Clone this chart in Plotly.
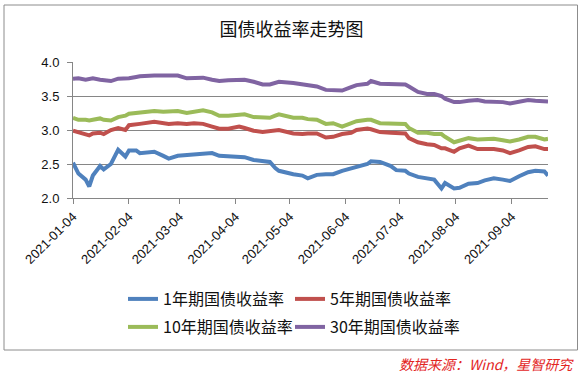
import plotly.graph_objects as go

# ---- data ----
dates = [
    "2021-01-04", "2021-01-07", "2021-01-11", "2021-01-13", "2021-01-15", "2021-01-19",
    "2021-01-21", "2021-01-25", "2021-01-29", "2021-02-02", "2021-02-04", "2021-02-08",
    "2021-02-10", "2021-02-18", "2021-02-23", "2021-02-26", "2021-03-03", "2021-03-08",
    "2021-03-12", "2021-03-17", "2021-03-22", "2021-03-26", "2021-03-31", "2021-04-06",
    "2021-04-09", "2021-04-14", "2021-04-19", "2021-04-23", "2021-04-26", "2021-04-28",
    "2021-05-06", "2021-05-11", "2021-05-14", "2021-05-19", "2021-05-24", "2021-05-28",
    "2021-06-02", "2021-06-07", "2021-06-10", "2021-06-16", "2021-06-18", "2021-06-23",
    "2021-06-29", "2021-07-02", "2021-07-07", "2021-07-09", "2021-07-14", "2021-07-19",
    "2021-07-23", "2021-07-27", "2021-07-29", "2021-08-03", "2021-08-06", "2021-08-11",
    "2021-08-16", "2021-08-20", "2021-08-25", "2021-08-30", "2021-09-03", "2021-09-08",
    "2021-09-13", "2021-09-17", "2021-09-22", "2021-09-24",
]

yield_1y = [
    2.52, 2.36, 2.27, 2.17, 2.33, 2.47, 2.42, 2.50, 2.71, 2.61, 2.70, 2.70,
    2.66, 2.68, 2.62, 2.58, 2.62, 2.63, 2.64, 2.66, 2.66, 2.62, 2.61, 2.60,
    2.60, 2.56, 2.55, 2.53, 2.44, 2.40, 2.35, 2.33, 2.29, 2.34, 2.35, 2.35,
    2.40, 2.44, 2.45, 2.50, 2.54, 2.53, 2.47, 2.41, 2.40, 2.36, 2.31, 2.29,
    2.27, 2.14, 2.22, 2.14, 2.15, 2.21, 2.22, 2.26, 2.29, 2.27, 2.25, 2.32,
    2.38, 2.40, 2.39, 2.33,
]

yield_5y = [
    2.99, 2.97, 2.94, 2.92, 2.95, 2.96, 2.94, 3.00, 3.03, 3.00, 3.07, 3.08,
    3.09, 3.12, 3.10, 3.09, 3.10, 3.09, 3.10, 3.09, 3.05, 3.02, 3.02, 3.05,
    3.03, 2.99, 2.97, 2.98, 2.99, 3.00, 2.95, 2.94, 2.95, 2.95, 2.89, 2.90,
    2.94, 2.96, 3.00, 3.02, 3.01, 2.97, 2.96, 2.96, 2.95, 2.88, 2.82, 2.79,
    2.78, 2.73, 2.73, 2.68, 2.73, 2.77, 2.72, 2.72, 2.72, 2.70, 2.66, 2.70,
    2.75, 2.76, 2.72, 2.72,
]

yield_10y = [
    3.18, 3.15, 3.15, 3.14, 3.15, 3.17, 3.15, 3.14, 3.19, 3.21, 3.24, 3.25,
    3.26, 3.28, 3.27, 3.27, 3.28, 3.25, 3.27, 3.29, 3.26, 3.21, 3.21, 3.22,
    3.23, 3.19, 3.19, 3.18, 3.21, 3.23, 3.18, 3.18, 3.16, 3.15, 3.09, 3.10,
    3.05, 3.11, 3.13, 3.15, 3.15, 3.10, 3.10, 3.10, 3.09, 3.03, 2.96, 2.96,
    2.94, 2.94, 2.90, 2.82, 2.84, 2.88, 2.86, 2.86, 2.87, 2.85, 2.83, 2.86,
    2.90, 2.90, 2.86, 2.87,
]

yield_30y = [
    3.755, 3.76, 3.74, 3.75, 3.76, 3.74, 3.73, 3.72, 3.755, 3.755, 3.76, 3.78,
    3.79, 3.80, 3.80, 3.81, 3.80, 3.76, 3.77, 3.77, 3.74, 3.72, 3.73, 3.74,
    3.74, 3.71, 3.67, 3.67, 3.70, 3.71, 3.69, 3.67, 3.66, 3.64, 3.59, 3.59,
    3.58, 3.63, 3.66, 3.68, 3.72, 3.68, 3.68, 3.68, 3.67, 3.64, 3.56, 3.53,
    3.53, 3.50, 3.46, 3.41, 3.41, 3.43, 3.44, 3.42, 3.42, 3.41, 3.39, 3.42,
    3.44, 3.43, 3.42, 3.42,
]

series_names = ["1年期国债收益率", "5年期国债收益率", "10年期国债收益率", "30年期国债收益率"]
series_colors = ["#4F81BD", "#C0504D", "#9BBB59", "#8064A2"]

tick_dates = ["2021-01-04", "2021-02-04", "2021-03-04", "2021-04-04", "2021-05-04",
              "2021-06-04", "2021-07-04", "2021-08-04", "2021-09-04"]
tick_labels = list(tick_dates)

title_text = "国债收益率走势图"
source_text = "数据来源：Wind，星智研究"

# ---- layout geometry ----
W, H = 583, 373
L, R, T, B = 73, 35, 62, 175
pw = W - L - R
ph = H - T - B


def px_x(x):
    return (x - L) / pw


def px_y(y):
    return (H - B - y) / ph


axis_grey = "#868686"
cjk = "Noto Sans CJK SC"

# one legend per entry, placed on a 2 x 2 grid like the original
legend_ids = ["legend", "legend2", "legend3", "legend4"]
legend_pos = [(123, 299), (290, 299), (123, 327), (290, 327)]

# ---- figure ----
fig = go.Figure()
for name, vals, col, lg in zip(series_names, [yield_1y, yield_5y, yield_10y, yield_30y],
                               series_colors, legend_ids):
    fig.add_trace(go.Scatter(
        x=dates, y=vals, mode="lines", name=name, legend=lg,
        line=dict(color=col, width=4, shape="linear"),
    ))

legend_layout = {}
for lg, (lx, ly) in zip(legend_ids, legend_pos):
    legend_layout[lg] = dict(
        orientation="h", x=px_x(lx), xanchor="left", y=px_y(ly), yanchor="middle",
        bgcolor="rgba(0,0,0,0)", borderwidth=0,
        font=dict(family=cjk, size=16, color="#111111"), itemclick=False,
    )

fig.update_layout(
    width=W, height=H,
    margin=dict(l=L, r=R, t=T, b=B),
    paper_bgcolor="white", plot_bgcolor="white",
    title=dict(text=title_text, x=0.5, xref="container", xanchor="center",
               y=1 - 30 / H, yref="container", yanchor="middle",
               font=dict(family=cjk, size=18, color="#111111")),
    xaxis=dict(
        type="date", range=[dates[0], dates[-1]],
        tickmode="array", tickvals=tick_dates, ticktext=tick_labels,
        tickangle=-45, ticks="outside", ticklen=5, tickcolor=axis_grey,
        showline=True, linecolor=axis_grey, linewidth=1, showgrid=False,
        tickfont=dict(family="Liberation Sans", size=13, color="#111111"),
    ),
    yaxis=dict(
        range=[2.0, 4.0], dtick=0.5, tick0=2.0, tickformat=".1f",
        ticks="outside", ticklen=5, tickcolor=axis_grey, ticklabelstandoff=5,
        showline=True, linecolor=axis_grey, linewidth=1,
        showgrid=True, gridcolor=axis_grey, gridwidth=1, zeroline=False,
        tickfont=dict(family="Liberation Sans", size=13, color="#111111"),
    ),
    showlegend=True,
    **legend_layout,
)

# outer chart border
fig.add_shape(type="rect", xref="paper", yref="paper",
              x0=px_x(4), x1=px_x(577.5), y0=px_y(350), y1=px_y(5),
              line=dict(color="#8c8c8c", width=1), fillcolor="rgba(0,0,0,0)", layer="below")

# source note
fig.add_annotation(text=source_text, xref="paper", yref="paper",
                   x=px_x(576), xanchor="right", y=px_y(364), yanchor="middle",
                   showarrow=False,
                   font=dict(family=cjk, size=14, color="#E3261F", style="italic"))

fig.write_html(
    "out.html",
    config={"displayModeBar": False},
    post_script="document.body.style.margin='0';document.body.style.padding='0';"
                "document.body.style.overflow='hidden';",
)
